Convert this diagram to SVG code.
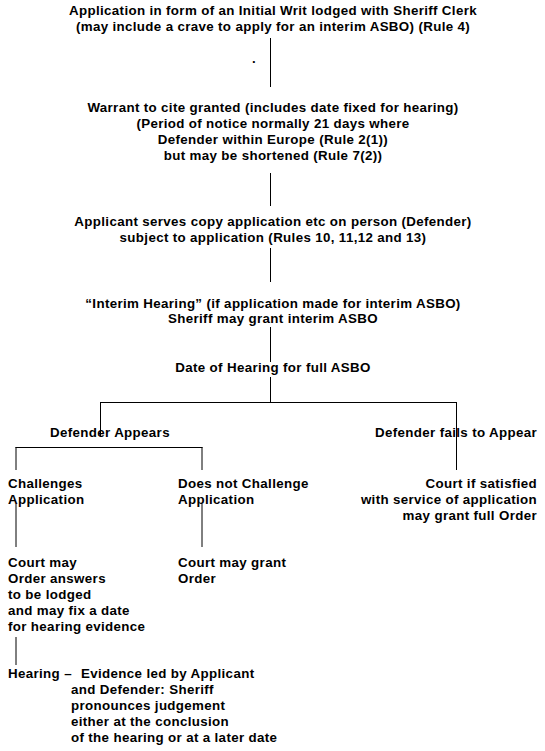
<svg xmlns="http://www.w3.org/2000/svg" width="545" height="751" viewBox="0 0 545 751">
<style>
text{font-family:"Liberation Sans",Arial,sans-serif;font-weight:bold;font-size:13.33px;letter-spacing:0.35px;fill:#000}
.c{text-anchor:middle}
.r{text-anchor:end}
.ln{stroke:#000;stroke-width:1;fill:none}
</style>
<rect width="545" height="751" fill="#fff"/>
<g id="connectors">
<line class="ln" x1="270.5" y1="38" x2="270.5" y2="87"/>
<line class="ln" x1="270.5" y1="173" x2="270.5" y2="206"/>
<line class="ln" x1="270.5" y1="248" x2="270.5" y2="282"/>
<line class="ln" x1="270.5" y1="327" x2="270.5" y2="362"/>
<line class="ln" x1="270.5" y1="377" x2="270.5" y2="402"/>
<line class="ln" x1="100" y1="402.5" x2="457" y2="402.5"/>
<line class="ln" x1="100.5" y1="402" x2="100.5" y2="437"/>
<line class="ln" x1="456.5" y1="402" x2="456.5" y2="470"/>
<line class="ln" x1="15.5" y1="447.5" x2="202.5" y2="447.5"/>
<line class="ln" x1="16" y1="447" x2="16" y2="470"/>
<line class="ln" x1="202" y1="447" x2="202" y2="470"/>
<line class="ln" x1="16" y1="504" x2="16" y2="547"/>
<line class="ln" x1="202" y1="504" x2="202" y2="547"/>
<line class="ln" x1="16" y1="637" x2="16" y2="665"/>
</g>
<g id="n1">
<text class="c" x="273" y="15">Application in form of an Initial Writ lodged with Sheriff Clerk</text>
<text class="c" x="273" y="31">(may include a crave to apply for an interim ASBO) (Rule 4)</text>
<text x="252" y="63">.</text>
</g>
<g id="n2">
<text class="c" x="273" y="112">Warrant to cite granted (includes date fixed for hearing)</text>
<text class="c" x="273" y="128">(Period of notice normally 21 days where</text>
<text class="c" x="273" y="144">Defender within Europe (Rule 2(1))</text>
<text class="c" x="273" y="160">but may be shortened (Rule 7(2))</text>
</g>
<g id="n3">
<text class="c" x="273" y="226">Applicant serves copy application etc on person (Defender)</text>
<text class="c" x="273" y="242">subject to application (Rules 10, 11,12 and 13)</text>
</g>
<g id="n4">
<text class="c" x="273" y="308">“Interim Hearing” (if application made for interim ASBO)</text>
<text class="c" x="273" y="323">Sheriff may grant interim ASBO</text>
</g>
<g id="n5">
<text class="c" x="273" y="372">Date of Hearing for full ASBO</text>
</g>
<g id="n6">
<text x="50" y="437">Defender Appears</text>
</g>
<g id="n7">
<text class="r" x="537" y="437">Defender fails to Appear</text>
</g>
<g id="n8">
<text x="8" y="488">Challenges</text>
<text x="8" y="504">Application</text>
</g>
<g id="n9">
<text x="178" y="488">Does not Challenge</text>
<text x="178" y="504">Application</text>
</g>
<g id="n10">
<text class="r" x="537" y="488">Court if satisfied</text>
<text class="r" x="537" y="504">with service of application</text>
<text class="r" x="537" y="520">may grant full Order</text>
</g>
<g id="n11">
<text x="8" y="567">Court may</text>
<text x="8" y="583">Order answers</text>
<text x="8" y="599">to be lodged</text>
<text x="8" y="615">and may fix a date</text>
<text x="8" y="631">for hearing evidence</text>
</g>
<g id="n12">
<text x="178" y="567">Court may grant</text>
<text x="178" y="583">Order</text>
</g>
<g id="n13">
<text x="8" y="678">Hearing –</text>
<text x="81" y="678">Evidence led by Applicant</text>
<text x="71" y="694">and Defender: Sheriff</text>
<text x="71" y="710">pronounces judgement</text>
<text x="71" y="726">either at the conclusion</text>
<text x="71" y="742">of the hearing or at a later date</text>
</g>
</svg>
